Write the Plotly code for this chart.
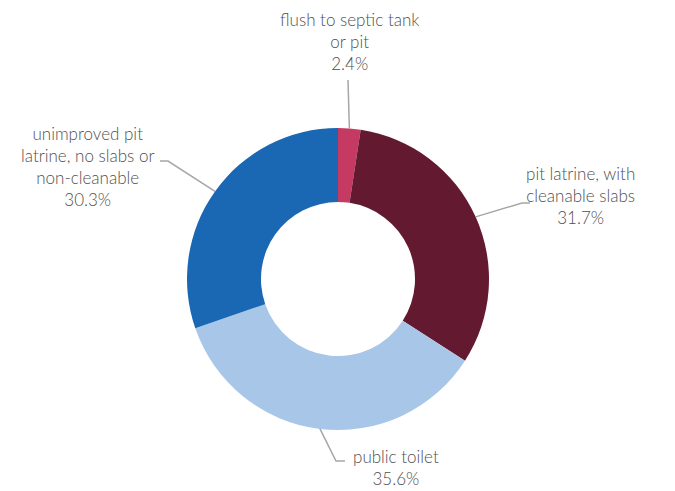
import math
import plotly.graph_objects as go

# Sanitation facility shares (%), clockwise from 12 o'clock
categories = [
    "flush to septic tank<br>or pit",
    "pit latrine, with<br>cleanable slabs",
    "public toilet",
    "unimproved pit<br>latrine, no slabs or<br>non-cleanable",
]
shares = [2.4, 31.7, 35.6, 30.3]
colors = ["#C53A62", "#631A30", "#A8C6E8", "#1A67B3"]

W, H = 675, 491
CX, CY, R = 338, 279, 151  # pie centre / radius in pixels

# label text centre and elbow of each leader line (pixels)
label_pos = [(349, 41), (580, 195), (396, 467), (87, 166)]
elbows = [[(348, 80)], [(522, 203), (530, 203)], [(336, 461), (345, 461)],
          [(168, 161), (160, 161)]]


def px(x, y):
    return x / W, 1 - y / H


fig = go.Figure(go.Pie(
    labels=[c.replace("<br>", " ") for c in categories],
    values=shares,
    marker=dict(colors=colors, line=dict(width=0)),
    hole=0.51,
    sort=False,
    direction="clockwise",
    rotation=0,
    textinfo="none",
    hoverinfo="label+percent",
    domain=dict(x=[(CX - R) / W, (CX + R) / W], y=[1 - (CY + R) / H, 1 - (CY - R) / H]),
    showlegend=False,
))

shapes = []
annotations = []
cum = 0.0
total = sum(shares)
for cat, val, (lx, ly), elb in zip(categories, shares, label_pos, elbows):
    mid = (cum + val / 2) / total * 2 * math.pi
    cum += val
    sx = CX + R * math.sin(mid)
    sy = CY - R * math.cos(mid)
    pts = [(sx, sy)] + elb
    path = "M " + " L ".join(f"{px(x, y)[0]:.5f},{px(x, y)[1]:.5f}" for x, y in pts)
    shapes.append(dict(type="path", path=path, xref="paper", yref="paper",
                       line=dict(color="#A6A6A6", width=1.5)))
    ax, ay = px(lx, ly)
    annotations.append(dict(
        x=ax, y=ay, xref="paper", yref="paper", showarrow=False,
        xanchor="center", yanchor="middle", align="center",
        text=f"{cat}<br>{val:.1f}%",
        font=dict(family="Lato", size=17, color="#505050", weight=300),
    ))

fig.update_layout(
    width=W, height=H,
    margin=dict(l=0, r=0, t=0, b=0),
    paper_bgcolor="white", plot_bgcolor="white",
    shapes=shapes, annotations=annotations,
)

fig.write_html("out.html")
